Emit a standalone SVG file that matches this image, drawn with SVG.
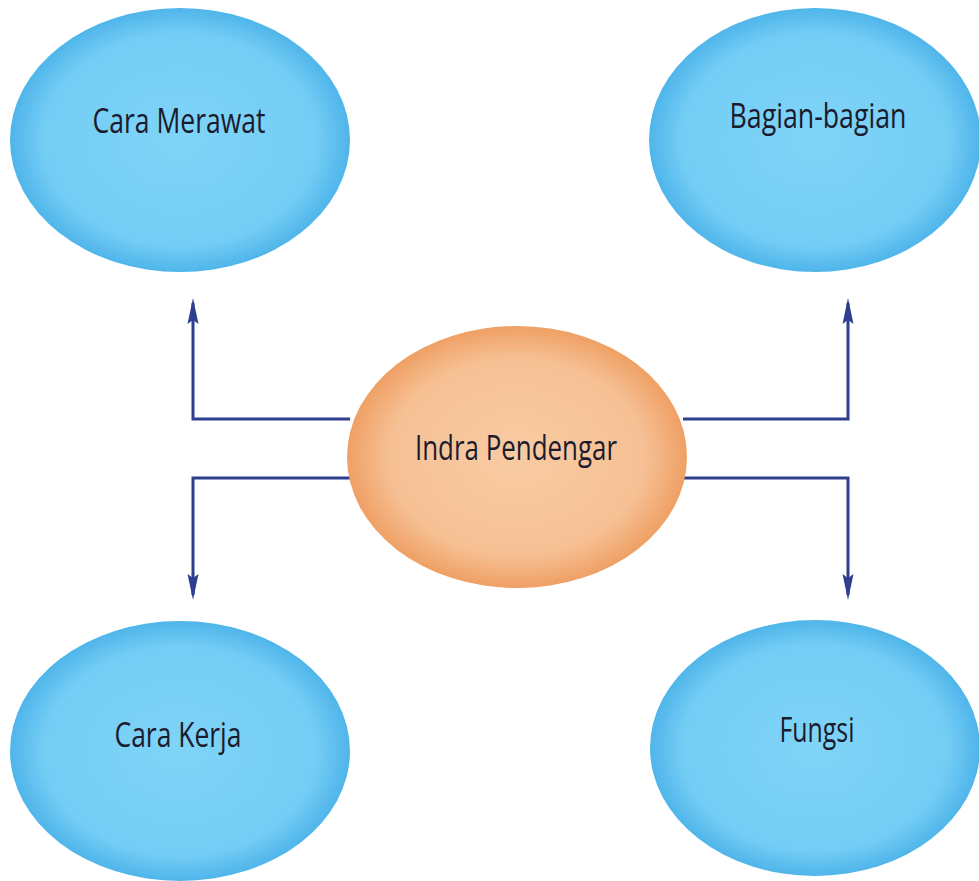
<svg xmlns="http://www.w3.org/2000/svg" width="979" height="881" viewBox="0 0 979 881">
  <style>
    .lbl { font-family: "Open Sans", "Noto Sans", "Liberation Sans", sans-serif; font-size: 34px; fill: #1b1b2e; text-anchor: middle; }
    .conn { fill: none; stroke: #2e3f8f; stroke-width: 3; stroke-linejoin: miter; }
    .head { fill: #2e3f8f; }
    .blue { fill: url(#gBlue); }
    .orange { fill: url(#gOrange); }
  </style>
  <defs>
    <radialGradient id="gBlue" cx="0.5" cy="0.5" r="0.5">
      <stop offset="0" stop-color="#7fd4f7"/>
      <stop offset="0.8" stop-color="#74cdf5"/>
      <stop offset="1" stop-color="#4fb5ea"/>
    </radialGradient>
    <radialGradient id="gOrange" cx="0.5" cy="0.5" r="0.5">
      <stop offset="0" stop-color="#f9cba3"/>
      <stop offset="0.75" stop-color="#f6c094"/>
      <stop offset="1" stop-color="#efa064"/>
    </radialGradient>
  </defs>
  <rect width="979" height="881" fill="#ffffff"/>

  <g id="connectors">
    <path class="conn" d="M350,419 H193 V303"/>
    <path class="conn" d="M350,478 H193 V595"/>
    <path class="conn" d="M683,419 H848 V303"/>
    <path class="conn" d="M683,478 H848 V595"/>
    <path class="head" d="M193,298 L198.5,324 L193,320 L187.5,324 Z"/>
    <path class="head" d="M193,600 L198.5,574 L193,578 L187.5,574 Z"/>
    <path class="head" d="M848,298 L853.5,324 L848,320 L842.5,324 Z"/>
    <path class="head" d="M848,600 L853.5,574 L848,578 L842.5,574 Z"/>
  </g>

  <g id="node-cara-merawat">
    <ellipse class="blue" cx="180" cy="140" rx="170" ry="132"/>
    <text class="lbl" x="179" y="133" textLength="173" lengthAdjust="spacingAndGlyphs">Cara Merawat</text>
  </g>
  <g id="node-bagian-bagian">
    <ellipse class="blue" cx="815" cy="140" rx="166" ry="132"/>
    <text class="lbl" x="818" y="128" textLength="177" lengthAdjust="spacingAndGlyphs">Bagian-bagian</text>
  </g>
  <g id="node-indra-pendengar">
    <ellipse class="orange" cx="517" cy="457" rx="170" ry="131"/>
    <text class="lbl" x="516" y="460" textLength="202" lengthAdjust="spacingAndGlyphs">Indra Pendengar</text>
  </g>
  <g id="node-cara-kerja">
    <ellipse class="blue" cx="180" cy="751" rx="170" ry="130"/>
    <text class="lbl" x="178" y="747" textLength="127" lengthAdjust="spacingAndGlyphs">Cara Kerja</text>
  </g>
  <g id="node-fungsi">
    <ellipse class="blue" cx="815" cy="748" rx="165" ry="128"/>
    <text class="lbl" x="817" y="742" textLength="75" lengthAdjust="spacingAndGlyphs">Fungsi</text>
  </g>
</svg>
